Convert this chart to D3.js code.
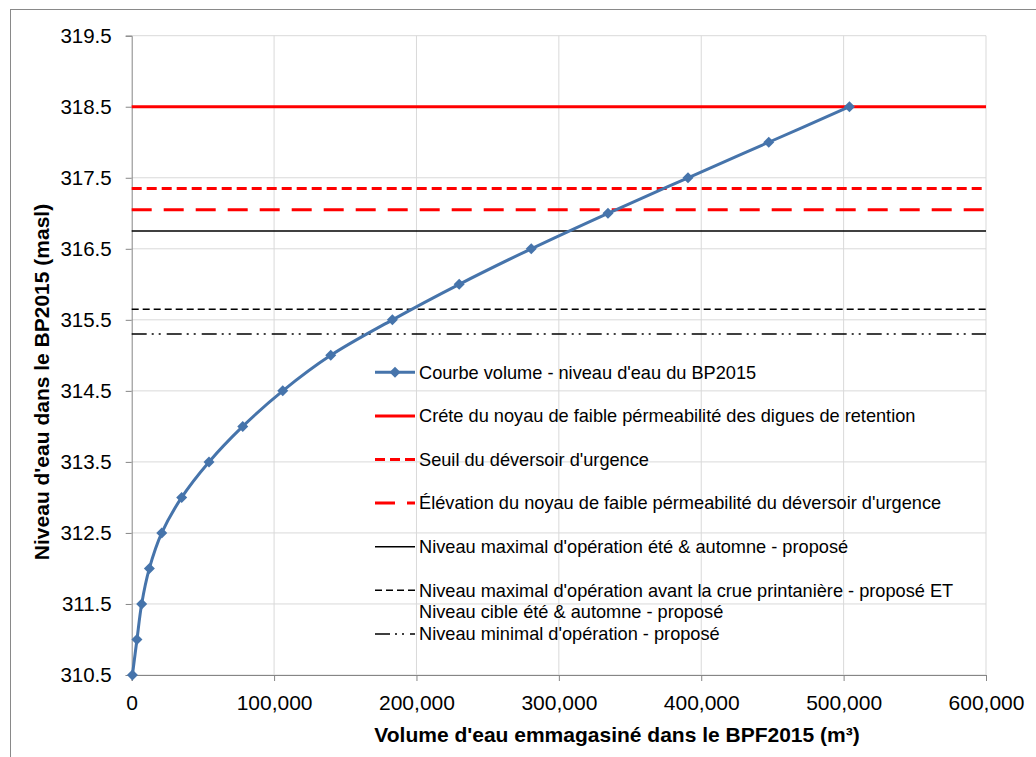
<!DOCTYPE html>
<html>
<head>
<meta charset="utf-8">
<script src="https://cdn.jsdelivr.net/npm/d3@7"></script>
<style>
  body { margin: 0; background: #fff; }
  svg { display: block; font-family: "Liberation Sans", Arial, sans-serif; }
</style>
</head>
<body>
<svg id="chart" width="1036" height="757"></svg>
<script>
// Volume - niveau d'eau du BP2015
var levels = [310.5, 311, 311.5, 312, 312.5, 313, 313.5, 314, 314.5, 315, 315.5, 316, 316.5, 317, 317.5, 318, 318.5];
var volumes = [500, 3700, 7000, 12400, 21100, 35100, 54300, 78000, 106100, 139800, 183100, 230000, 280600, 334500, 390700, 447400, 504100];

// horizontal reference levels
var refNames = [
    "Créte du noyau de faible pérmeabilité des digues de retention",
    "Seuil du déversoir d'urgence",
    "Élévation du noyau de faible pérmeabilité du déversoir d'urgence",
    "Niveau maximal d'opération été & automne - proposé",
    "Niveau maximal d'opération avant la crue printanière - proposé ET\nNiveau cible été & automne - proposé",
    "Niveau minimal d'opération - proposé"
];
var refLevels = [318.5, 317.35, 317.05, 316.75, 315.65, 315.3];
var curveName = "Courbe volume - niveau d'eau du BP2015";

var yTicks = [310.5, 311.5, 312.5, 313.5, 314.5, 315.5, 316.5, 317.5, 318.5, 319.5];
var xTicks = [0, 100000, 200000, 300000, 400000, 500000, 600000];

// line styles for the reference levels
var refStyles = [
    {color: "#ff0000", width: 3, dash: null},
    {color: "#ff0000", width: 3, dash: "10,5"},
    {color: "#ff0000", width: 3, dash: "20,12"},
    {color: "#000000", width: 1.5, dash: null},
    {color: "#000000", width: 1.5, dash: "7,4"},
    {color: "#000000", width: 1.5, dash: "15,5,2,5,2,6"}
];

var svg = d3.select("#chart");
var plotLeft = 131.7, plotRight = 986, plotTop = 35.7, plotBottom = 675;

var x = d3.scaleLinear().domain([0, 600000]).range([plotLeft, plotRight]);
var y = d3.scaleLinear().domain([310.5, 319.5]).range([plotBottom, plotTop]);

// outer chart border
svg.append("rect")
    .attr("x", 10.5).attr("y", 9.5)
    .attr("width", 1100).attr("height", 800)
    .attr("fill", "none").attr("stroke", "#898989");

// gridlines
svg.append("g").selectAll("line")
    .data(yTicks)
    .enter().append("line")
    .attr("x1", plotLeft).attr("x2", plotRight)
    .attr("y1", function(d) { return y(d); })
    .attr("y2", function(d) { return y(d); })
    .attr("stroke", "#d9d9d9");
svg.append("g").selectAll("line")
    .data(xTicks.slice(1))
    .enter().append("line")
    .attr("x1", function(d) { return x(d); })
    .attr("x2", function(d) { return x(d); })
    .attr("y1", plotTop).attr("y2", plotBottom)
    .attr("stroke", "#d9d9d9");

// axes
var yAxis = svg.append("g")
    .attr("transform", "translate(" + plotLeft + ",0)")
    .call(d3.axisLeft(y).tickValues(yTicks).tickFormat(d3.format(".1f")).tickSize(6).tickPadding(14));
var xAxis = svg.append("g")
    .attr("transform", "translate(0," + plotBottom + ")")
    .call(d3.axisBottom(x).tickValues(xTicks).tickFormat(d3.format(",")).tickSize(6).tickPadding(14));
[yAxis, xAxis].forEach(function(a) {
    a.select(".domain").attr("stroke", "#868686");
    a.selectAll(".tick line").attr("stroke", "#868686");
    a.selectAll("text").attr("fill", "#000").style("font-family", "'Liberation Sans', Arial, sans-serif");
});
yAxis.selectAll("text").style("font-size", "20.5px");
xAxis.selectAll("text").style("font-size", "21px");

// reference lines
refLevels.forEach(function(v, i) {
    var s = refStyles[i];
    svg.append("line")
        .attr("x1", plotLeft).attr("x2", plotRight)
        .attr("y1", y(v)).attr("y2", y(v))
        .attr("stroke", s.color)
        .attr("stroke-width", s.width)
        .attr("stroke-dasharray", s.dash);
});

// volume curve
var pts = volumes.map(function(v, i) { return [v, levels[i]]; });
var line = d3.line()
    .x(function(d) { return x(d[0]); })
    .y(function(d) { return y(d[1]); })
    .curve(d3.curveCatmullRom.alpha(0.5));
svg.append("path")
    .datum(pts)
    .attr("d", line)
    .attr("fill", "none")
    .attr("stroke", "#4674ab")
    .attr("stroke-width", 3);
var diamond = "M0,-5.5L5.5,0L0,5.5L-5.5,0Z";
svg.append("g").selectAll("path")
    .data(pts)
    .enter().append("path")
    .attr("d", diamond)
    .attr("transform", function(d) { return "translate(" + x(d[0]) + "," + y(d[1]) + ")"; })
    .attr("fill", "#4674ab");

// legend
var legendX = 375, legendY = 372.3, rowStep = 43.6;
var lg = svg.append("g").style("font-size", "18.2px");
var entries = [curveName].concat(refNames);
entries.forEach(function(name, i) {
    var cy = legendY + i * rowStep;
    var g = lg.append("g");
    if (i === 0) {
        g.append("line")
            .attr("x1", legendX).attr("x2", legendX + 40)
            .attr("y1", cy).attr("y2", cy)
            .attr("stroke", "#4674ab").attr("stroke-width", 3);
        g.append("path").attr("d", diamond)
            .attr("transform", "translate(" + (legendX + 20) + "," + cy + ")")
            .attr("fill", "#4674ab");
    } else {
        var s = refStyles[i - 1];
        g.append("line")
            .attr("x1", legendX).attr("x2", legendX + 40)
            .attr("y1", cy).attr("y2", cy)
            .attr("stroke", s.color).attr("stroke-width", s.width)
            .attr("stroke-dasharray", s.dash);
    }
    var lines = name.split("\n");
    lines.forEach(function(t, j) {
        g.append("text")
            .attr("x", legendX + 44)
            .attr("y", cy + j * 21.2)
            .attr("dy", "0.35em")
            .text(t);
    });
});

// axis titles
svg.append("text")
    .attr("x", 617).attr("y", 742)
    .attr("text-anchor", "middle")
    .style("font-size", "21px").style("font-weight", "bold")
    .text("Volume d'eau emmagasiné dans le BPF2015 (m³)");
svg.append("text")
    .attr("transform", "translate(49,382) rotate(-90)")
    .attr("text-anchor", "middle")
    .style("font-size", "21px").style("font-weight", "bold")
    .text("Niveau d'eau dans le BP2015 (masl)");
</script>
</body>
</html>
